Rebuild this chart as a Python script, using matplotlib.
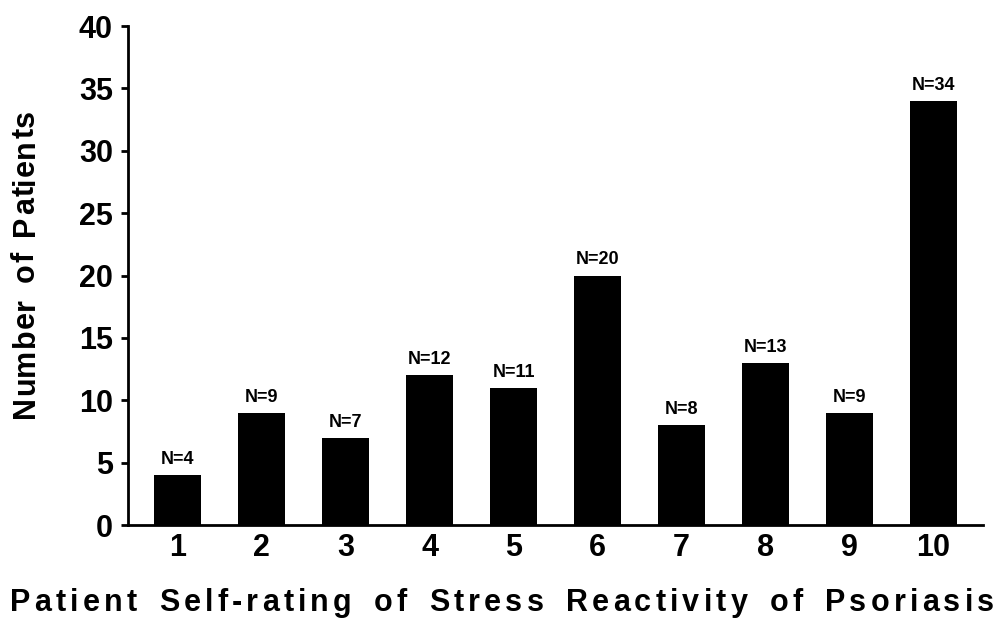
import matplotlib
matplotlib.use("Agg")
import matplotlib.pyplot as plt
from matplotlib.font_manager import FontProperties

categories = [1, 2, 3, 4, 5, 6, 7, 8, 9, 10]
patients = [4, 9, 7, 12, 11, 20, 8, 13, 9, 34]
yticks = [0, 5, 10, 15, 20, 25, 30, 35, 40]
xlabel = "Patient Self-rating of Stress Reactivity of Psoriasis"
ylabel = "Number of Patients"

W, H = 1001, 635
plt.rcParams['font.family'] = ['Liberation Sans', 'DejaVu Sans']
plt.rcParams['font.weight'] = 'bold'

fig = plt.figure(figsize=(W / 100, H / 100), dpi=100)
ax = fig.add_axes([0.128, 0.173, 0.854, 0.786])

ax.bar(categories, patients, width=0.56, color='black', zorder=2)
for c, v in zip(categories, patients):
    ax.annotate(f"N={v}", (c, v), xytext=(0, 8), textcoords='offset points',
                ha='center', va='baseline', fontsize=13, fontweight='bold')

ax.set_xlim(0.41, 10.59)
ax.set_ylim(0, 40)
ax.set_yticks(yticks)
ax.set_xticks(categories)
ax.tick_params(axis='x', length=0, labelsize=22, pad=6)
ax.tick_params(axis='y', length=5, width=2, labelsize=22, pad=6)
for lbl in ax.get_xticklabels() + ax.get_yticklabels():
    lbl.set_fontweight('bold')

for s in ['top', 'right']:
    ax.spines[s].set_visible(False)
ax.spines['left'].set_linewidth(2)
ax.spines['bottom'].set_linewidth(2)

# letter-spaced axis labels
renderer = fig.canvas.get_renderer()
prop = FontProperties(family='Liberation Sans', weight='bold', size=22)


def advance(ch):
    w1, _, _ = renderer.get_text_width_height_descent("H" + ch + "H", prop, ismath=False)
    w0, _, _ = renderer.get_text_width_height_descent("HH", prop, ismath=False)
    return w1 - w0


def tracked(text, start, end, base, track, vertical=False):
    advs = [advance(ch) for ch in text]
    nsp = text.count(" ")
    natural = sum(advs) + track * (len(text) - 1)
    word_extra = ((end - start) - natural) / max(nsp, 1)
    pos = start
    for ch, a in zip(text, advs):
        if ch != " ":
            if vertical:
                fig.text(base / W, pos / H, ch, fontproperties=prop, rotation=90,
                         rotation_mode='anchor', ha='left', va='baseline')
            else:
                fig.text(pos / W, base / H, ch, fontproperties=prop,
                         ha='left', va='baseline')
        else:
            pos += word_extra
        pos += a + track


# x label: spans ~10..992 px, baseline ~611 px from top
tracked(xlabel, 10, 994, H - 611, track=4.2)
# y label: spans ~418..108 px from top (bottom to top), baseline x ~34 px
tracked(ylabel, H - 418, H - 110, 34, track=1.0, vertical=True)

fig.savefig("out.png", dpi=100)
